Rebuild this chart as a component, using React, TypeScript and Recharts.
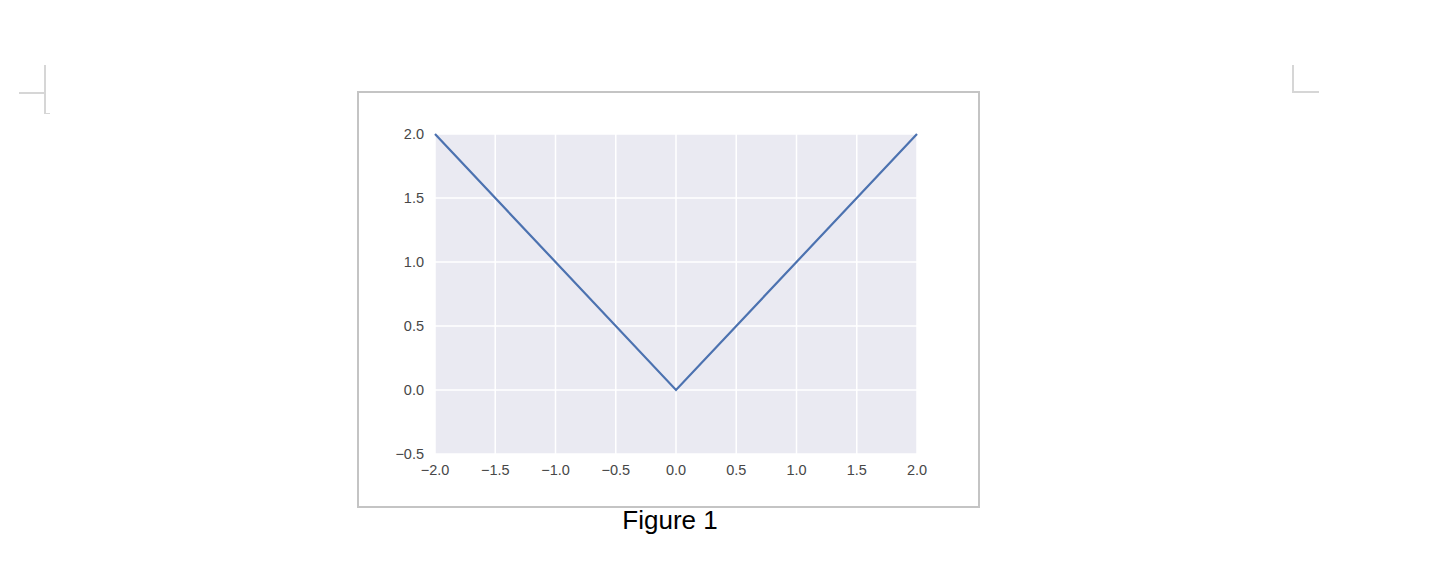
import { LineChart, Line, XAxis, YAxis, CartesianGrid } from "recharts";

const xValues = [-2, 0, 2];
const yValues = [2, 0, 2];
const xTicks = [-2, -1.5, -1, -0.5, 0, 0.5, 1, 1.5, 2];
const yTicks = [-0.5, 0, 0.5, 1, 1.5, 2];
const caption = "Figure 1";

const data = xValues.map((x, i) => ({ x, y: yValues[i] }));

// matplotlib uses a real minus sign
const fmt = (v: number) => v.toFixed(1).replace("-", "\u2212");

const tickStyle = {
  fill: "#474747",
  fontSize: 14.5,
  fontFamily: "Liberation Sans, Arial, sans-serif",
};

const mark = "#d6d6d6";

export default function App() {
  return (
    <div
      style={{
        position: "absolute",
        left: 0,
        top: 0,
        width: 1445,
        height: 563,
        background: "#fff",
        overflow: "hidden",
      }}
    >
      {/* page corner marks */}
      <div style={{ position: "absolute", left: 44, top: 65, width: 2, height: 49, background: mark }} />
      <div style={{ position: "absolute", left: 19, top: 92, width: 27, height: 2, background: mark }} />
      <div style={{ position: "absolute", left: 44, top: 113, width: 6, height: 1, background: mark }} />
      <div style={{ position: "absolute", left: 1292, top: 65, width: 2, height: 28, background: mark }} />
      <div style={{ position: "absolute", left: 1292, top: 91, width: 27, height: 2, background: mark }} />

      {/* framed figure */}
      <div
        style={{
          position: "absolute",
          left: 357,
          top: 91,
          width: 623,
          height: 417,
          border: "2px solid #c4c4c4",
          boxSizing: "border-box",
          background: "#fff",
        }}
      >
        <LineChart
          width={619}
          height={413}
          data={data}
          margin={{ top: 41, right: 61, bottom: 20, left: 0 }}
        >
          <CartesianGrid
            fill="#EAEAF2"
            stroke="#ffffff"
            strokeWidth={1.5}
            horizontalValues={yTicks}
            verticalValues={xTicks}
          />
          <XAxis
            dataKey="x"
            type="number"
            domain={[-2, 2]}
            ticks={xTicks}
            tickFormatter={fmt}
            axisLine={false}
            tickLine={false}
            tickSize={0}
            tickMargin={11}
            height={32}
            tick={tickStyle}
            interval={0}
          />
          <YAxis
            type="number"
            domain={[-0.5, 2]}
            ticks={yTicks}
            tickFormatter={fmt}
            axisLine={false}
            tickLine={false}
            tickSize={0}
            tickMargin={11}
            width={76}
            tick={tickStyle}
            interval={0}
          />
          <Line
            dataKey="y"
            type="linear"
            stroke="#4C72B0"
            strokeWidth={2.2}
            dot={false}
            isAnimationActive={false}
          />
        </LineChart>
      </div>

      <div
        style={{
          position: "absolute",
          left: 0,
          width: 1340,
          top: 505,
          textAlign: "center",
          fontFamily: "Liberation Sans, Arial, sans-serif",
          fontSize: 26,
          color: "#000",
        }}
      >
        {caption}
      </div>
    </div>
  );
}
